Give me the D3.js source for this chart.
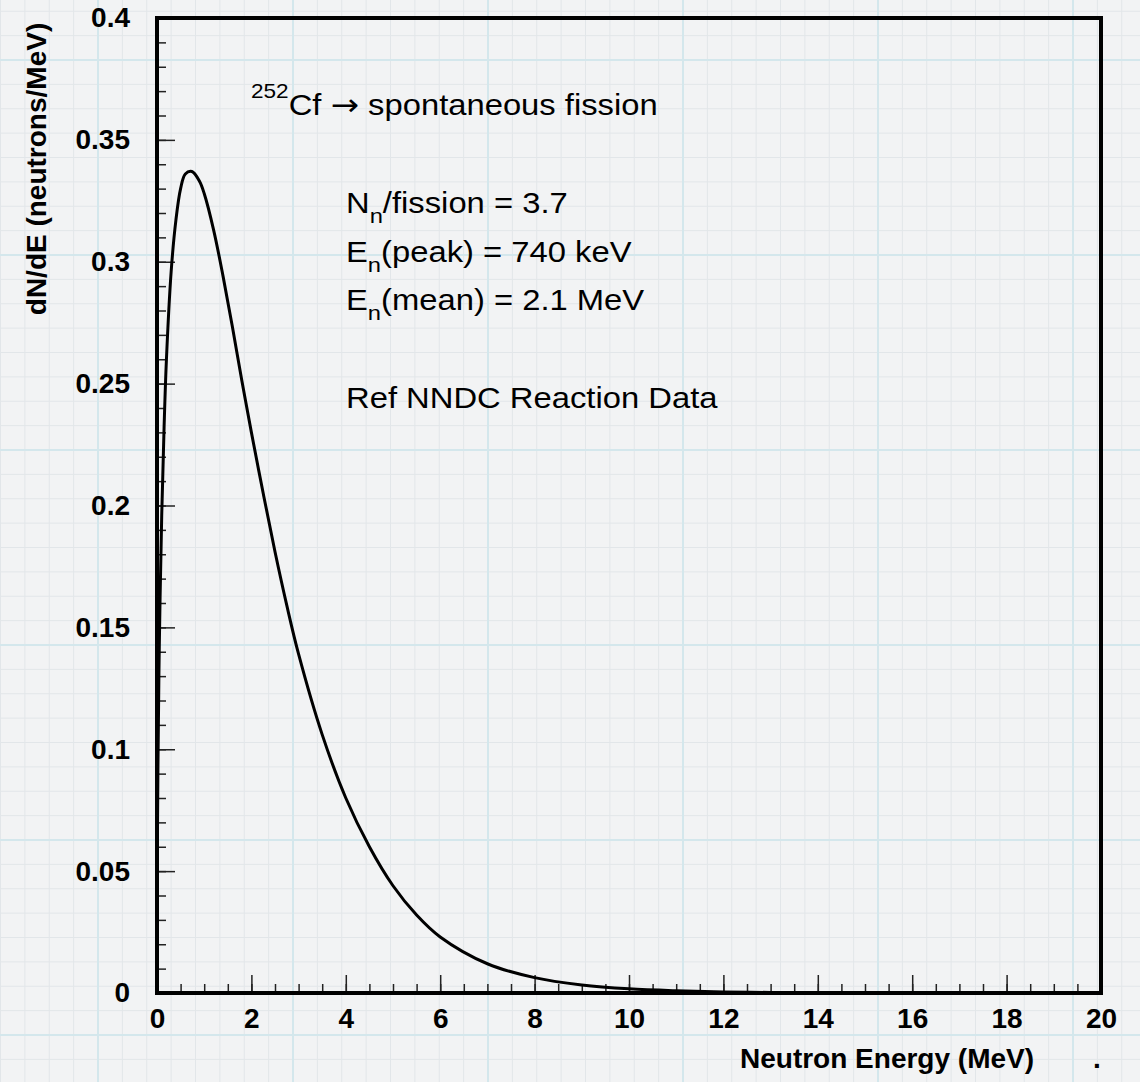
<!DOCTYPE html>
<html>
<head>
<meta charset="utf-8">
<script src="https://cdn.jsdelivr.net/npm/d3@7"></script>
<style>
	body { margin: 0; background: #f1f2f3; }
	svg { display: block; }
	.tick text { font-family: 'Liberation Sans', Arial, sans-serif; font-weight: bold; font-size: 28px; fill: #000; }
	.tick line { stroke: #222; stroke-width: 1.5; }
	.title { font-family: 'Liberation Sans', Arial, sans-serif; font-weight: bold; font-size: 28px; }
	.note { font-family: 'Liberation Sans', Arial, sans-serif; font-size: 29px; }
</style>
</head>
<body>
<script>
// neutron energy (MeV) and dN/dE (neutrons/MeV)
var energy = [0, 0.005, 0.02, 0.05, 0.1, 0.15, 0.2, 0.3, 0.4, 0.5, 0.6, 0.74, 0.9, 1.0, 1.2, 1.4, 1.6, 1.8, 2.0, 2.25, 2.5, 2.75, 3.0, 3.5, 4.0, 4.5, 5.0, 5.5, 6.0, 7.0, 8.0, 9.0, 10, 11, 12, 13, 14, 16, 18, 20];
var dNdE = [0, 0.047, 0.093, 0.144, 0.196, 0.232, 0.260, 0.296, 0.317, 0.330, 0.336, 0.337, 0.333, 0.328, 0.313, 0.294, 0.273, 0.251, 0.230, 0.205, 0.181, 0.159, 0.139, 0.106, 0.080, 0.060, 0.044, 0.032, 0.023, 0.012, 0.0063, 0.0033, 0.0017, 0.0009, 0.00045, 0.00023, 0.00012, 0.00003, 0.00001, 0];

var xTicks = [0, 2, 4, 6, 8, 10, 12, 14, 16, 18, 20];
var xTickLabels = ['0', '2', '4', '6', '8', '10', '12', '14', '16', '18', '20'];
var yTicks = [0, 0.05, 0.1, 0.15, 0.2, 0.25, 0.3, 0.35, 0.4];
var yTickLabels = ['0', '0.05', '0.1', '0.15', '0.2', '0.25', '0.3', '0.35', '0.4'];

var width = 1140, height = 1082;
var plot = { left: 157, right: 1101, top: 18, bottom: 993 };

var svg = d3.select('body')
	.append('svg')
	.attr('width', width)
	.attr('height', height);

// graph paper background
var paper = svg.append('g').attr('class', 'paper');
paper.append('rect')
	.attr('width', width)
	.attr('height', height)
	.attr('fill', '#f2f3f4');

var step = 195 / 8;
paper.selectAll('line.vminor')
	.data(d3.range(98 - 4 * 195, width, step))
	.enter()
	.append('line')
	.attr('x1', function(d) { return d; })
	.attr('x2', function(d) { return d; })
	.attr('y1', 0)
	.attr('y2', height)
	.attr('stroke', '#e2e6e9')
	.attr('stroke-width', 1);
paper.selectAll('line.hminor')
	.data(d3.range(60 - 4 * 195, height, step))
	.enter()
	.append('line')
	.attr('y1', function(d) { return d; })
	.attr('y2', function(d) { return d; })
	.attr('x1', 0)
	.attr('x2', width)
	.attr('stroke', '#e2e6e9')
	.attr('stroke-width', 1);
paper.selectAll('line.vmajor')
	.data(d3.range(98, width, 195))
	.enter()
	.append('line')
	.attr('x1', function(d) { return d; })
	.attr('x2', function(d) { return d; })
	.attr('y1', 0)
	.attr('y2', height)
	.attr('stroke', '#d4e7ec')
	.attr('stroke-width', 2);
paper.selectAll('line.hmajor')
	.data(d3.range(60, height, 195))
	.enter()
	.append('line')
	.attr('y1', function(d) { return d; })
	.attr('y2', function(d) { return d; })
	.attr('x1', 0)
	.attr('x2', width)
	.attr('stroke', '#d4e7ec')
	.attr('stroke-width', 2);

var x = d3.scaleLinear().domain([0, 20]).range([plot.left, plot.right]);
var y = d3.scaleLinear().domain([0, 0.4]).range([plot.bottom, plot.top]);

// minor ticks
svg.append('g')
	.attr('transform', 'translate(0,' + plot.bottom + ')')
	.call(d3.axisBottom(x).tickValues(d3.range(0, 20.01, 0.5)).tickSize(-9).tickFormat(''))
	.call(function(g) { g.select('.domain').remove(); });
svg.append('g')
	.attr('transform', 'translate(' + plot.left + ',0)')
	.call(d3.axisLeft(y).tickValues(d3.range(0, 0.401, 0.01)).tickSize(-9).tickFormat(''))
	.call(function(g) { g.select('.domain').remove(); });

// major ticks
svg.append('g')
	.attr('transform', 'translate(0,' + plot.bottom + ')')
	.call(d3.axisBottom(x).tickValues(xTicks).tickSize(-18).tickPadding(15)
		.tickFormat(function(d, i) { return xTickLabels[i]; }))
	.call(function(g) { g.select('.domain').remove(); });
svg.append('g')
	.attr('transform', 'translate(' + plot.left + ',0)')
	.call(d3.axisLeft(y).tickValues(yTicks).tickSize(-18).tickPadding(27)
		.tickFormat(function(d, i) { return yTickLabels[i]; }))
	.call(function(g) { g.select('.domain').remove(); });

// the spectrum
var line = d3.line()
	.x(function(d) { return x(d[0]); })
	.y(function(d) { return y(d[1]); })
	.curve(d3.curveCatmullRom.alpha(0.5));

svg.append('path')
	.datum(energy.map(function(e, i) { return [e, dNdE[i]]; }))
	.attr('d', line)
	.attr('fill', 'none')
	.attr('stroke', '#000')
	.attr('stroke-width', 3);

// frame
svg.append('rect')
	.attr('x', plot.left)
	.attr('y', plot.top)
	.attr('width', plot.right - plot.left)
	.attr('height', plot.bottom - plot.top)
	.attr('fill', 'none')
	.attr('stroke', '#000')
	.attr('stroke-width', 4);

// axis titles
svg.append('text')
	.attr('class', 'title')
	.attr('x', 740)
	.attr('y', 1068)
	.text('Neutron Energy (MeV)');
svg.append('text')
	.attr('class', 'title')
	.attr('x', 1093)
	.attr('y', 1068)
	.text('.');
svg.append('text')
	.attr('class', 'title')
	.attr('text-anchor', 'middle')
	.attr('transform', 'translate(46,169) rotate(-90)')
	.text('dN/dE (neutrons/MeV)');

// annotations
function note(px, py) {
	return svg.append('text')
		.attr('class', 'note')
		.attr('transform', 'translate(' + px + ',' + py + ') scale(1.13,1)');
}

var t1 = note(251, 115);
t1.append('tspan').attr('font-size', 20).attr('dy', -17).text('252');
t1.append('tspan').attr('dy', 17).text('Cf ');
t1.append('tspan').attr('font-family', 'DejaVu Sans').attr('font-size', 30).text('\u2192');
t1.append('tspan').text(' spontaneous fission');

var t2 = note(346, 213);
t2.append('tspan').text('N');
t2.append('tspan').attr('font-size', 21).attr('dy', 10).text('n');
t2.append('tspan').attr('dy', -10).text('/fission = 3.7');

var t3 = note(346, 262);
t3.append('tspan').text('E');
t3.append('tspan').attr('font-size', 21).attr('dy', 10).text('n');
t3.append('tspan').attr('dy', -10).text('(peak) = 740 keV');

var t4 = note(346, 310);
t4.append('tspan').text('E');
t4.append('tspan').attr('font-size', 21).attr('dy', 10).text('n');
t4.append('tspan').attr('dy', -10).text('(mean) = 2.1 MeV');

note(346, 408).text('Ref NNDC Reaction Data');
</script>
</body>
</html>
